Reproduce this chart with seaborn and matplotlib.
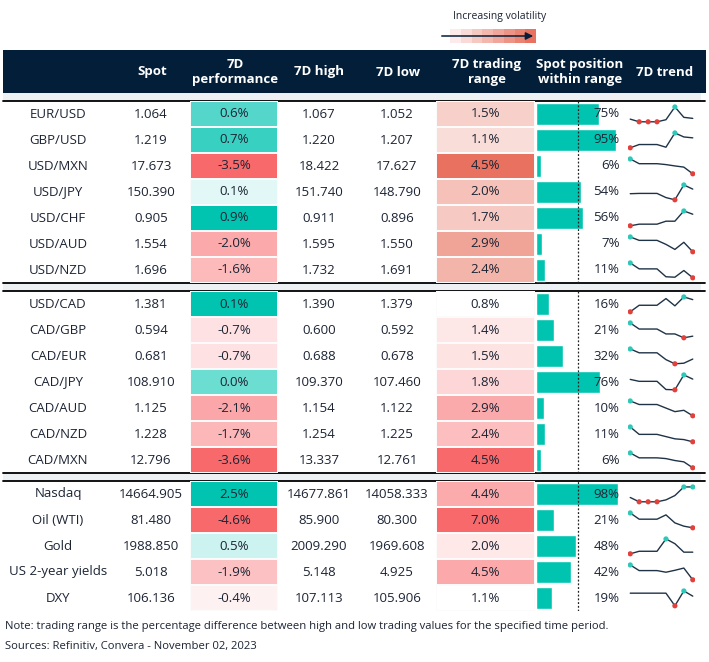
import numpy as np
import pandas as pd
import matplotlib.pyplot as plt
import seaborn as sns
from matplotlib.patches import Rectangle
from matplotlib.colors import LinearSegmentedColormap

# ---- data ----
labels_g1 = ['EUR/USD', 'GBP/USD', 'USD/MXN', 'USD/JPY', 'USD/CHF', 'USD/AUD', 'USD/NZD']
spot_g1 = [1.064, 1.219, 17.673, 150.390, 0.905, 1.554, 1.696]
perf_g1 = [0.6, 0.7, -3.5, 0.1, 0.9, -2.0, -1.6]
high_g1 = [1.067, 1.220, 18.422, 151.740, 0.911, 1.595, 1.732]
low_g1 = [1.052, 1.207, 17.627, 148.790, 0.896, 1.550, 1.691]
range_g1 = [1.5, 1.1, 4.5, 2.0, 1.7, 2.9, 2.4]
pos_g1 = [75, 95, 6, 54, 56, 7, 11]
trend_g1 = [
    [18, 0, 0, 0, 14, 100, 30, 23],
    [0, 22, 22, 22, 4, 100, 73, 67],
    [100, 68, 68, 68, 62, 53, 45, 0],
    [41, 43, 43, 43, 15, 0, 100, 72],
    [0, 11, 11, 11, 31, 31, 100, 78],
    [100, 77, 77, 77, 50, 16, 64, 0],
    [100, 60, 60, 60, 7, 4, 49, 0],
]

labels_g2 = ['USD/CAD', 'CAD/GBP', 'CAD/EUR', 'CAD/JPY', 'CAD/AUD', 'CAD/NZD', 'CAD/MXN']
spot_g2 = [1.381, 0.594, 0.681, 108.910, 1.125, 1.228, 12.796]
perf_g2 = [0.07, -0.7, -0.7, 0.04, -2.1, -1.7, -3.6]
high_g2 = [1.390, 0.600, 0.688, 109.370, 1.154, 1.254, 13.337]
low_g2 = [1.379, 0.592, 0.678, 107.460, 1.122, 1.225, 12.761]
range_g2 = [0.8, 1.4, 1.5, 1.8, 2.9, 2.4, 4.5]
pos_g2 = [16, 21, 32, 76, 10, 11, 6]
trend_g2 = [
    [0, 44, 44, 44, 89, 40, 100, 82],
    [100, 59, 59, 59, 26, 26, 0, 11],
    [100, 74, 74, 74, 28, 0, 4, 32],
    [70, 57, 57, 57, 2, 0, 100, 72],
    [100, 76, 76, 76, 52, 28, 37, 0],
    [100, 50, 50, 50, 35, 20, 15, 0],
    [100, 67, 67, 67, 62, 49, 40, 0],
]

labels_g3 = ['Nasdaq', 'Oil (WTI)', 'Gold', 'US 2-year yields', 'DXY']
spot_g3 = [14664.905, 81.480, 1988.850, 5.018, 106.136]
perf_g3 = [2.5, -4.6, 0.5, -1.9, -0.4]
high_g3 = [14677.861, 85.900, 2009.290, 5.148, 107.113]
low_g3 = [14058.333, 80.300, 1969.608, 4.925, 105.906]
range_g3 = [4.4, 7.0, 2.0, 4.5, 1.1]
pos_g3 = [98, 21, 48, 42, 19]
trend_g3 = [
    [29, 0, 0, 0, 13, 42, 100, 100],
    [100, 58, 58, 58, 87, 33, 11, 0],
    [0, 17, 17, 17, 100, 68, 11, 11],
    [100, 62, 62, 62, 51, 64, 79, 0],
    [85, 85, 85, 85, 85, 0, 100, 65],
]

headers = ['Spot', '7D\nperformance', '7D high', '7D low', '7D trading\nrange',
           'Spot position\nwithin range', '7D trend']
note = 'Note: trading range is the percentage difference between high and low trading values for the specified time period.'
source = 'Sources: Refinitiv, Convera - November 02, 2023'

groups = [
    dict(labels=labels_g1, spot=spot_g1, perf=perf_g1, high=high_g1, low=low_g1,
         rng=range_g1, pos=pos_g1, trend=trend_g1, top=101, rng_red='#e8725f', rng_floor=0.0),
    dict(labels=labels_g2, spot=spot_g2, perf=perf_g2, high=high_g2, low=low_g2,
         rng=range_g2, pos=pos_g2, trend=trend_g2, top=291, rng_red='#f8696b', rng_floor=None),
    dict(labels=labels_g3, spot=spot_g3, perf=perf_g3, high=high_g3, low=low_g3,
         rng=range_g3, pos=pos_g3, trend=trend_g3, top=481, rng_red='#f8696b', rng_floor=None),
]

# ---- style ----
sns.set_theme(style='white')
plt.rcParams['font.family'] = ['Open Sans', 'DejaVu Sans']

W, H = 709, 662
ROW_H = 26
NAVY = '#031e39'
TEAL = '#00c4b0'
RED = '#f8696b'
TXT = '#1c2434'
GRAY = '#edf1f4'
FS = 9.5

fig = plt.figure(figsize=(W / 100, H / 100), dpi=100)


def px_axes(x0, y0, x1, y1):
    return fig.add_axes([x0 / W, 1 - y1 / H, (x1 - x0) / W, (y1 - y0) / H])


ax0 = fig.add_axes([0, 0, 1, 1])
ax0.set_xlim(0, W)
ax0.set_ylim(H, 0)
ax0.axis('off')

# header
ax0.add_patch(Rectangle((3, 50), 703, 43, color=NAVY, lw=0))
ax0.add_patch(Rectangle((3, 93), 698, 8, color=GRAY, lw=0))
ax0.plot([3, 705], [101, 101], color='black', lw=1.3)
head_x = [152, 235, 319, 398, 487, 580, 665]
for hx, h in zip(head_x, headers):
    ax0.text(hx, 72, h, ha='center', va='center', color='white', fontsize=FS,
             fontweight='bold', linespacing=1.25)

# volatility legend
cmap_leg = LinearSegmentedColormap.from_list('leg', ['#fdf1f1', '#e8725f'])
for k, c in enumerate(np.linspace(0.05, 1, 8)):
    ax0.add_patch(Rectangle((450 + k * 10.75, 29), 10.75, 14, color=cmap_leg(c), lw=0))
ax0.text(500, 17, 'Increasing volatility', ha='center', va='center', fontsize=7.5, color=TXT)
ax0.annotate('', xy=(536, 36), xytext=(439, 36),
             arrowprops=dict(arrowstyle='-|>', color=NAVY, lw=1.1, mutation_scale=11))

div_cmap = LinearSegmentedColormap.from_list('div', [RED, 'white', TEAL])

for gi, g in enumerate(groups):
    n = len(g['labels'])
    top = g['top']
    bot = top + n * ROW_H

    # separators
    if gi < len(groups) - 1:
        nxt = groups[gi + 1]['top']
        ax0.add_patch(Rectangle((3, bot), 698, nxt - bot, color=GRAY, lw=0))
        ax0.plot([3, 705], [bot, bot], color='black', lw=1.3)
        ax0.plot([3, 705], [nxt, nxt], color='black', lw=1.3)

    # plain text columns
    for i in range(n):
        yc = top + (i + 0.5) * ROW_H
        ax0.text(58, yc, g['labels'][i], ha='center', va='center', fontsize=FS, color=TXT)
        ax0.text(151, yc, f"{g['spot'][i]:.3f}", ha='center', va='center', fontsize=FS, color=TXT)
        ax0.text(319, yc, f"{g['high'][i]:.3f}", ha='center', va='center', fontsize=FS, color=TXT)
        ax0.text(397, yc, f"{g['low'][i]:.3f}", ha='center', va='center', fontsize=FS, color=TXT)

    # 7D performance heatmap (scaled per group and sign)
    perf = np.array(g['perf'])
    pmax = perf[perf > 0].max() if (perf > 0).any() else 1
    nmax = -perf[perf < 0].min() if (perf < 0).any() else 1
    scaled = np.where(perf >= 0, perf / pmax, perf / nmax)
    annot = np.array([[f'{v:.1f}%'] for v in perf])
    axp = px_axes(190, top, 278, bot)
    sns.heatmap(scaled.reshape(-1, 1), ax=axp, cmap=div_cmap, vmin=-1, vmax=1, cbar=False,
                annot=annot, fmt='', annot_kws=dict(fontsize=FS, color=TXT),
                linewidths=0.3, linecolor='#fbfbfb', xticklabels=False, yticklabels=False)
    axp.axis('off')

    # 7D trading range heatmap
    rng = np.array(g['rng'])
    lo = rng.min() if g['rng_floor'] is None else g['rng_floor']
    rcmap = LinearSegmentedColormap.from_list('r%d' % gi, ['white', g['rng_red']])
    annot_r = np.array([[f'{v:.1f}%'] for v in rng])
    axr = px_axes(436, top, 535, bot)
    sns.heatmap(rng.reshape(-1, 1), ax=axr, cmap=rcmap, vmin=lo, vmax=rng.max(), cbar=False,
                annot=annot_r, fmt='', annot_kws=dict(fontsize=FS, color=TXT),
                linewidths=0.3, linecolor='#fbfbfb', xticklabels=False, yticklabels=False)
    axr.axis('off')

    # spot position bars
    axb = px_axes(536, top, 620, bot)
    df_pos = pd.DataFrame({'label': g['labels'], 'pos': g['pos']})
    sns.barplot(data=df_pos, x='pos', y='label', orient='h', color=TEAL, width=0.85,
                saturation=1, ax=axb)
    axb.set_xlim(0, 100)
    axb.set_ylim(n - 0.5, -0.5)
    axb.axvline(50, color='#222222', ls=(0, (1.5, 1.5)), lw=0.9)
    for i, p in enumerate(g['pos']):
        axb.text(99.5, i, f'{p}%', ha='right', va='center', fontsize=FS, color=TXT)
    axb.axis('off')

    # 7D trend sparklines
    for i, tr in enumerate(g['trend']):
        rt = top + i * ROW_H
        axs = px_axes(628, rt, 695, rt + ROW_H)
        df_t = pd.DataFrame({'day': range(len(tr)), 'v': tr})
        sns.lineplot(data=df_t, x='day', y='v', ax=axs, color='#1f3347', lw=1.0)
        hi_pts = df_t[df_t['v'] == df_t['v'].max()]
        lo_pts = df_t[df_t['v'] == df_t['v'].min()]
        sns.scatterplot(data=hi_pts, x='day', y='v', ax=axs, color='#2cc9b9', s=14,
                        edgecolor='none', zorder=3)
        sns.scatterplot(data=lo_pts, x='day', y='v', ax=axs, color='#e2403a', s=14,
                        edgecolor='none', zorder=3)
        axs.set_xlim(-0.25, 7.25)
        axs.set_ylim(-35, 140)
        axs.axis('off')

# footer
ax0.text(5, 627, note, ha='left', va='center', fontsize=8.1, color=TXT)
ax0.text(5, 647, source, ha='left', va='center', fontsize=8.1, color=TXT)

fig.savefig('out.png', dpi=100)
